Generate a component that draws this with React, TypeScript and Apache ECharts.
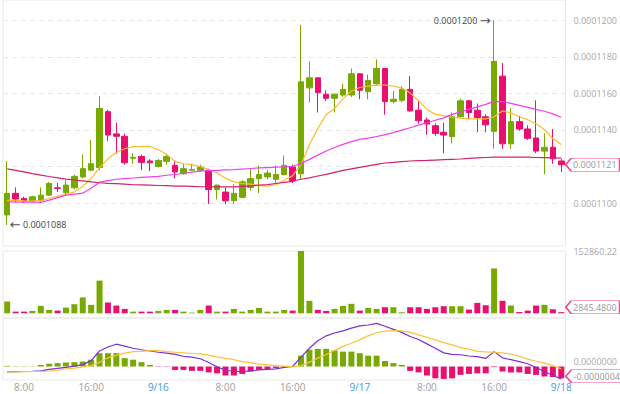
import React, { useEffect, useRef } from 'react';
import * as echarts from 'echarts';

// hourly categories
const categories = [
  '9/15 06:00','9/15 07:00','9/15 08:00','9/15 09:00','9/15 10:00','9/15 11:00','9/15 12:00','9/15 13:00','9/15 14:00','9/15 15:00',
  '9/15 16:00','9/15 17:00','9/15 18:00','9/15 19:00','9/15 20:00','9/15 21:00','9/15 22:00','9/15 23:00',
  '9/16 00:00','9/16 01:00','9/16 02:00','9/16 03:00','9/16 04:00','9/16 05:00','9/16 06:00','9/16 07:00','9/16 08:00','9/16 09:00',
  '9/16 10:00','9/16 11:00','9/16 12:00','9/16 13:00','9/16 14:00','9/16 15:00','9/16 16:00','9/16 17:00','9/16 18:00','9/16 19:00',
  '9/16 20:00','9/16 21:00','9/16 22:00','9/16 23:00',
  '9/17 00:00','9/17 01:00','9/17 02:00','9/17 03:00','9/17 04:00','9/17 05:00','9/17 06:00','9/17 07:00','9/17 08:00','9/17 09:00',
  '9/17 10:00','9/17 11:00','9/17 12:00','9/17 13:00','9/17 14:00','9/17 15:00','9/17 16:00','9/17 17:00','9/17 18:00','9/17 19:00',
  '9/17 20:00','9/17 21:00','9/17 22:00','9/17 23:00',
  '9/18 00:00',
];

// price in units of 1e-7: [open, close, low, high]
const ohlc = [
  [1093.5, 1105.3, 1088, 1123], [1105.3, 1102.2, 1100.5, 1108.5], [1102.5, 1101.2, 1100, 1103.5], [1101.3, 1103.4, 1100.5, 1104],
  [1101.3, 1104.3, 1100.5, 1108.5], [1104.3, 1110.7, 1104, 1111.5], [1108.3, 1108.0, 1106, 1111], [1105.6, 1109.8, 1104, 1112.5],
  [1108.3, 1114.6, 1107.5, 1115.5], [1114.3, 1118.8, 1113.5, 1126.5], [1118.0, 1121.5, 1117.5, 1134.5], [1119.4, 1151.7, 1118, 1158.6],
  [1150.0, 1137.2, 1134, 1151], [1137.8, 1136.5, 1127, 1144], [1136.5, 1122.0, 1121, 1138], [1124.5, 1125.0, 1121.5, 1127.3],
  [1125.5, 1122.2, 1118, 1126.5], [1123.0, 1122.0, 1117.4, 1124], [1120.0, 1123.3, 1119.5, 1124], [1122.8, 1125.5, 1121, 1127],
  [1120.6, 1117.0, 1113.4, 1123.3], [1116.0, 1118.8, 1115.5, 1121.5], [1118.0, 1118.4, 1117.8, 1121.5], [1118.0, 1119.7, 1117.8, 1121],
  [1117.9, 1107.4, 1099.5, 1118.8], [1107.4, 1109.8, 1102, 1110], [1106.0, 1101.2, 1099.5, 1108.5], [1101.3, 1105.3, 1099.5, 1110.3],
  [1103.1, 1111.6, 1102.5, 1112.5], [1108.5, 1113.4, 1106.8, 1118.8], [1113.4, 1115.6, 1105.5, 1120.5], [1114.3, 1116.4, 1113, 1118],
  [1113.0, 1115.6, 1111, 1120.5], [1115.6, 1120.6, 1115, 1126], [1119.7, 1112.1, 1111, 1121], [1116.0, 1166.3, 1113, 1197.5],
  [1163.0, 1168.5, 1155, 1177.5], [1168.5, 1160.4, 1149.5, 1168.5], [1159.5, 1157.3, 1155.9, 1161.7], [1157.3, 1159.5, 1149.5, 1160],
  [1159.1, 1162.2, 1158, 1165.2], [1159.1, 1170.7, 1158, 1173.6], [1170.7, 1161.7, 1156.8, 1171], [1160.9, 1167.1, 1156.8, 1170.3],
  [1165.2, 1173.6, 1164, 1178.5], [1173.6, 1155.5, 1148.3, 1174], [1155.5, 1156.8, 1154.5, 1161.3], [1156.2, 1162.2, 1155, 1164],
  [1162.2, 1150.4, 1150, 1169.4], [1150.8, 1145.0, 1143.5, 1155.9], [1145.4, 1143.2, 1137.4, 1146.8], [1142.3, 1138.1, 1136.7, 1143.5],
  [1138.7, 1137.2, 1127.3, 1144], [1136.3, 1147.2, 1132.7, 1149.5], [1147.2, 1155.9, 1146.8, 1157.1], [1155.9, 1149.5, 1145.9, 1156.5],
  [1150.8, 1146.8, 1138.7, 1154.4], [1147.2, 1142.8, 1138.7, 1148.5], [1139.2, 1177.5, 1129.7, 1200], [1169.4, 1132.4, 1129.7, 1176.6],
  [1132.4, 1144.5, 1129.7, 1151.9], [1144.5, 1140.5, 1139.5, 1147.7], [1140.5, 1135.4, 1134.5, 1142.5], [1135.6, 1128.4, 1127.3, 1156.2],
  [1128.4, 1130.5, 1115.7, 1138.1], [1130.5, 1124.2, 1121.5, 1140.5], [1123.0, 1121.0, 1117, 1124],
];

const maShort = [
  1101.5, 1101.5, 1101.2, 1101.0, 1101.3, 1102.5, 1103.8, 1104.7, 1106.1, 1109.2,
  1113.4, 1119.4, 1124.2, 1127.8, 1129.7, 1130.9, 1130.9, 1130.9, 1129.1, 1126.5,
  1122.8, 1121.5, 1121.0, 1120.0, 1118.3, 1116.4, 1113.6, 1111.6, 1110.7, 1110.3,
  1109.5, 1109.3, 1110.0, 1112.5, 1115.0, 1121.0, 1132.0, 1140.7, 1148.3, 1151.8,
  1157.0, 1161.3, 1163.2, 1164.0, 1164.5, 1164.5, 1164.0, 1162.9, 1160.2, 1155.9,
  1151.2, 1148.5, 1147.8, 1147.0, 1146.4, 1146.0, 1146.0, 1146.0, 1147.2, 1150.4,
  1149.3, 1147.2, 1145.6, 1143.4, 1140.1, 1135.2, 1132.0,
];

const maMid = [
  1100.8, 1100.5, 1100.5, 1100.5, 1100.3, 1101.6, 1103.0, 1104.3, 1104.9, 1105.4,
  1108.1, 1111.4, 1112.3, 1113.0, 1113.4, 1113.7, 1114.0, 1114.3, 1114.6, 1115.2,
  1115.6, 1116.3, 1116.9, 1117.5, 1117.7, 1117.9, 1118.1, 1118.3, 1118.6, 1118.9,
  1119.2, 1119.4, 1119.6, 1119.8, 1120.1, 1121.5, 1123.9, 1126.2, 1128.5, 1130.4,
  1132.1, 1133.6, 1134.8, 1135.5, 1136.3, 1137.4, 1138.5, 1139.9, 1141.2, 1142.6,
  1143.9, 1145.3, 1146.6, 1148.5, 1149.9, 1151.2, 1152.6, 1154.0, 1155.6, 1155.5,
  1154.5, 1153.4, 1152.3, 1151.2, 1150.2, 1148.8, 1146.9,
];

const maLong = [
  1118.7, 1117.9, 1117.0, 1116.1, 1115.3, 1114.5, 1113.8, 1113.1, 1112.6, 1112.1,
  1111.6, 1111.1, 1110.8, 1110.6, 1110.3, 1110.0, 1109.9, 1109.8, 1109.6, 1109.5,
  1109.3, 1109.2, 1109.1, 1108.9, 1108.9, 1108.8, 1108.8, 1108.8, 1109.1, 1109.4,
  1109.8, 1110.1, 1110.7, 1111.3, 1111.9, 1113.0, 1113.8, 1114.8, 1115.7, 1116.8,
  1117.9, 1118.7, 1119.5, 1120.3, 1121.1, 1121.9, 1122.2, 1122.6, 1123.0, 1123.2,
  1123.3, 1123.5, 1123.7, 1123.9, 1124.1, 1124.4, 1124.7, 1124.9, 1125.1, 1125.1,
  1125.1, 1125.1, 1125.1, 1124.9, 1124.8, 1124.7, 1124.6,
];

const volumes = [
  28900, 4100, 4100, 5800, 18200, 8300, 6600, 14000, 22300, 38900,
  20700, 80200, 26500, 19000, 10800, 4100, 4100, 4100, 5800, 8300,
  8300, 4100, 1700, 8300, 19000, 4100, 4100, 10800, 4100, 8300,
  13200, 4100, 4100, 8300, 6600, 152860.22, 30600, 8300, 5800, 10800,
  18200, 23200, 6600, 13200, 10800, 14900, 14900, 2500, 14900, 14900,
  10800, 14900, 17400, 17400, 17400, 9100, 25600, 19800, 110000, 30600,
  19000, 3300, 6600, 19000, 20700, 9900, 2845.48,
];

// MACD in units of 1e-7
const macdHist = [
  0.2, 0.1, 0.1, 0.1, 0.5, 0.9, 1.1, 1.3, 1.4, 1.6,
  2.2, 4.3, 4.3, 4.3, 2.7, 2.2, 1.4, 0.5, -0.1, -0.1,
  -1.1, -1.1, -1.4, -1.4, -1.9, -2.2, -2.9, -2.9, -2.4, -1.6,
  -1.1, -0.8, -0.5, -0.2, 0.1, 3.5, 5.4, 5.7, 5.7, 5.2,
  4.8, 4.8, 4.3, 3.5, 3.5, 1.8, 1.1, 0.5, -1.4, -1.9,
  -2.9, -3.8, -4.0, -3.8, -2.7, -2.4, -2.2, -2.2, -0.2, -1.6,
  -1.9, -1.9, -2.4, -2.7, -3.2, -3.4, -3.8,
];

const dif = [
  -1.7, -1.65, -1.6, -1.55, -1.4, -0.9, -0.6, -0.3, 0.1, 0.6,
  1.9, 5.0, 6.3, 7.2, 6.6, 5.9, 5.4, 5.0, 4.6, 4.3,
  3.9, 3.3, 3.0, 2.5, 1.3, -0.1, -1.2, -1.6, -1.6, -1.4,
  -1.1, -0.9, -0.75, -0.3, 0, 3.0, 5.9, 8.3, 9.9, 10.8,
  11.5, 12.4, 13.1, 13.4, 13.9, 13.0, 12.0, 11.0, 9.7, 8.7,
  7.3, 5.9, 4.4, 3.9, 3.8, 3.4, 3.2, 2.6, 4.8, 2.8,
  2.2, 1.6, 0.9, -0.3, -1.6, -2.9, -4.0,
];

const dea = [
  -1.7, -1.7, -1.65, -1.6, -1.55, -1.45, -1.2, -0.8, -0.5, -0.1,
  0.3, 1.4, 2.8, 3.6, 4.3, 4.8, 4.9, 5.1, 5.1, 4.8,
  4.6, 4.4, 4.2, 4.1, 3.7, 3.1, 2.6, 2.2, 1.6, 1.2,
  0.75, 0.5, 0.3, 0.1, -0.1, 0.3, 1.4, 2.7, 3.9, 5.2,
  6.5, 7.5, 8.6, 9.9, 10.9, 11.4, 11.6, 11.5, 11.1, 10.2,
  9.4, 8.6, 7.7, 7.0, 6.1, 5.6, 4.9, 4.7, 4.6, 4.4,
  4.0, 3.3, 2.4, 1.7, 1.1, 0.3, -0.75,
];

const GREEN = '#77a901';
const PINK = '#ea0f6f';
const TAG_BORDER = '#ee4a8c';
const GRID_LINE = '#e9e9e9';
const FONT = 'Open Sans';
const TAG_PATH = 'path://M0,6L6,0L60,0L60,12L6,12Z';

const fmtPrice = (v: number) => (v / 1e7).toFixed(7);

export default function App() {
  const ref = useRef<HTMLDivElement>(null);
  useEffect(() => {
    document.body.style.margin = '0';
    const chart = echarts.init(ref.current!, null, { renderer: 'svg' });
    const last = categories.length - 1;
    const volMax = Math.max(...volumes);
    const lastClose = ohlc[last][1];
    const transparent = 'rgba(0,0,0,0)';

    const tag = (coordY: number, text: string, dy: number, w: number) => ({
      coord: [categories[last], coordY],
      symbol: TAG_PATH,
      symbolSize: [w, 13],
      symbolKeepAspect: false,
      symbolOffset: [4.5 + w / 2, dy],
      itemStyle: { color: '#fff', borderColor: TAG_BORDER, borderWidth: 1 },
      label: {
        show: true,
        position: 'inside',
        formatter: text,
        color: '#999',
        fontSize: 9,
        fontFamily: FONT,
        offset: [2, 0],
      },
    });

    const option: any = {
      animation: false,
      textStyle: { fontFamily: FONT },
      grid: [
        { left: 3, right: 54, top: -1, height: 247, show: true, borderColor: GRID_LINE, borderWidth: 1 },
        { left: 3, right: 54, top: 251, height: 67, show: true, borderColor: GRID_LINE, borderWidth: 1 },
        { left: 3, right: 54, top: 318, height: 62, show: true, borderColor: GRID_LINE, borderWidth: 1 },
      ],
      xAxis: [0, 1, 2].map((g) => ({
        type: 'category',
        gridIndex: g,
        data: categories,
        boundaryGap: true,
        axisLine: { show: false },
        axisTick: { show: false },
        splitLine: { show: false },
        axisLabel:
          g === 2
            ? {
                show: true,
                interval: (idx: number) => idx % 8 === 2,
                margin: 2,
                fontSize: 10,
                fontFamily: FONT,
                formatter: (val: string) => {
                  const [d, t] = val.split(' ');
                  if (t === '00:00') return `{d|${d}}`;
                  return `{t|${Number(t.slice(0, 2))}:00}`;
                },
                rich: {
                  d: { color: '#3a9be6', fontSize: 10, fontFamily: FONT },
                  t: { color: '#a0a0a0', fontSize: 10, fontFamily: FONT },
                },
              }
            : { show: false },
      })),
      yAxis: [
        {
          type: 'value',
          gridIndex: 0,
          position: 'right',
          min: 1076.5,
          max: 1211.06,
          splitNumber: 7,
          scale: true,
          axisLine: { show: false },
          axisTick: { show: false },
          splitLine: {
            show: true,
            lineStyle: {
              type: [5, 4],
              color: [transparent, transparent, GRID_LINE, GRID_LINE, GRID_LINE, GRID_LINE, GRID_LINE, GRID_LINE, transparent],
            },
          },
          axisLabel: {
            color: '#a8a8a8',
            fontSize: 9,
            fontFamily: FONT,
            margin: 8,
            formatter: (v: number) => {
              const r = Math.round(v);
              if (Math.abs(v - r) > 0.01 || r < 1100 || r > 1200 || r % 20 !== 0) return '';
              // hidden beneath the last-price tag
              if (Math.abs(r - lastClose) < 6) return '';
              return fmtPrice(r);
            },
          },
        },
        {
          type: 'value',
          gridIndex: 1,
          position: 'right',
          min: -11530,
          max: volMax,
          axisLine: { show: false },
          axisTick: { show: false },
          splitLine: { show: false },
          axisLabel: {
            color: '#a8a8a8',
            fontSize: 9,
            fontFamily: FONT,
            showMaxLabel: true,
            formatter: (v: number) => (Math.abs(v - volMax) < 0.5 ? volMax.toFixed(2) : ''),
          },
        },
        {
          type: 'value',
          gridIndex: 2,
          position: 'right',
          min: -4.35,
          max: 15.65,
          axisLine: { show: false },
          axisTick: { show: false },
          splitLine: { show: false },
          axisLabel: {
            color: '#a8a8a8',
            fontSize: 9,
            fontFamily: FONT,
            verticalAlign: 'bottom',
            lineHeight: 10,
            formatter: (v: number) => (Math.abs(v) < 1e-9 ? fmtPrice(0) : ''),
          },
        },
      ],
      series: [
        {
          type: 'candlestick',
          xAxisIndex: 0,
          yAxisIndex: 0,
          data: ohlc,
          barWidth: 6,
          itemStyle: { color: GREEN, color0: PINK, borderColor: GREEN, borderColor0: PINK, borderWidth: 1 },
          markPoint: {
            symbol: 'circle',
            symbolSize: 1,
            itemStyle: { color: transparent },
            data: [
              {
                type: 'max',
                valueDim: 'highest',
                label: {
                  show: true,
                  position: 'left',
                  distance: 3,
                  color: '#444',
                  fontSize: 9,
                  fontFamily: FONT,
                  formatter: (p: any) => `${fmtPrice(p.value)} {a|→}`,
                  rich: { a: { fontSize: 13, color: '#555', fontFamily: 'DejaVu Sans' } },
                },
              },
              {
                type: 'min',
                valueDim: 'lowest',
                label: {
                  show: true,
                  position: 'right',
                  distance: 2,
                  color: '#444',
                  fontSize: 9,
                  fontFamily: FONT,
                  formatter: (p: any) => `{a|←} ${fmtPrice(p.value)}`,
                  rich: { a: { fontSize: 13, color: '#555', fontFamily: 'DejaVu Sans' } },
                },
              },
              tag(lastClose, fmtPrice(lastClose), 0, 54),
            ],
          },
        },
        {
          type: 'line', xAxisIndex: 0, yAxisIndex: 0, data: maShort, showSymbol: false,
          lineStyle: { color: '#fbbd2e', width: 1.2 }, itemStyle: { color: '#fbbd2e' },
        },
        {
          type: 'line', xAxisIndex: 0, yAxisIndex: 0, data: maMid, showSymbol: false,
          lineStyle: { color: '#f23ff0', width: 1.2 }, itemStyle: { color: '#f23ff0' },
        },
        {
          type: 'line', xAxisIndex: 0, yAxisIndex: 0, data: maLong, showSymbol: false,
          lineStyle: { color: '#d4216d', width: 1.2 }, itemStyle: { color: '#d4216d' },
        },
        {
          type: 'bar',
          xAxisIndex: 1,
          yAxisIndex: 1,
          barWidth: 6,
          data: volumes.map((v, i) => ({
            value: v,
            itemStyle: { color: ohlc[i][1] >= ohlc[i][0] ? GREEN : PINK },
          })),
          markPoint: { data: [tag(volumes[last], volumes[last].toFixed(4), -5, 54)] },
        },
        {
          type: 'bar',
          xAxisIndex: 2,
          yAxisIndex: 2,
          barWidth: 6,
          data: macdHist.map((v) => ({ value: v, itemStyle: { color: v >= 0 ? GREEN : PINK } })),
          markPoint: { data: [tag(macdHist[last], fmtPrice(macdHist[last]), -2, 58)] },
        },
        {
          type: 'line', xAxisIndex: 2, yAxisIndex: 2, data: dif, showSymbol: false,
          lineStyle: { color: '#7a2fdc', width: 1.2 }, itemStyle: { color: '#7a2fdc' },
        },
        {
          type: 'line', xAxisIndex: 2, yAxisIndex: 2, data: dea, showSymbol: false,
          lineStyle: { color: '#fcc23a', width: 1.2 }, itemStyle: { color: '#fcc23a' },
        },
      ],
    };
    chart.setOption(option);
    return () => chart.dispose();
  }, []);
  return <div ref={ref} style={{ width: 620, height: 394 }} />;
}
